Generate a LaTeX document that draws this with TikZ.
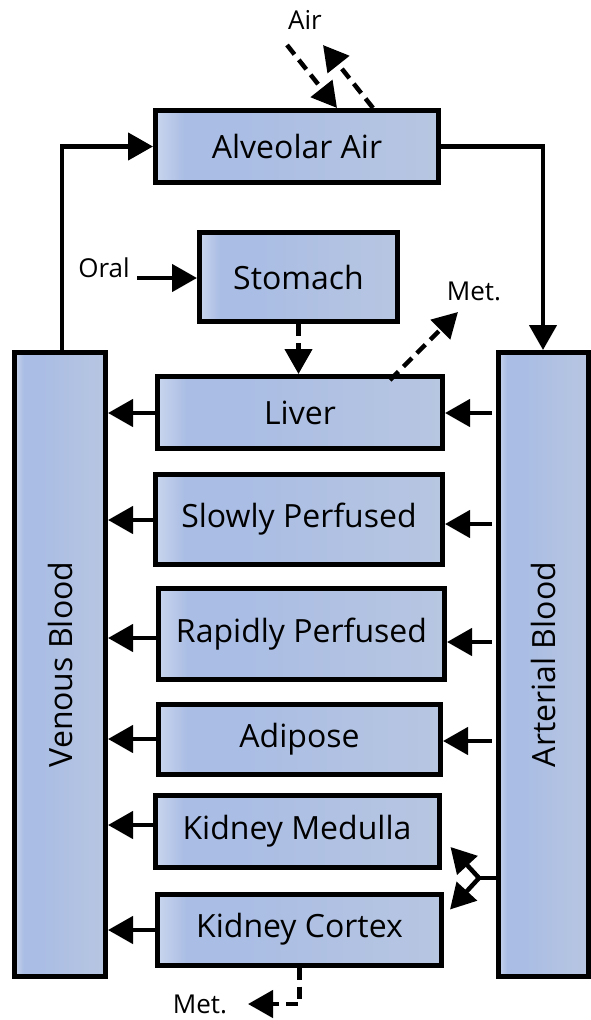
\documentclass[tikz,border=0pt]{standalone}
\usepackage{fontspec}
\setmainfont{Open Sans}
\usetikzlibrary{arrows.meta}

% left-to-right fill of the compartment boxes
\definecolor{fillA}{HTML}{CAD6EE}
\definecolor{fillB}{HTML}{AABDE4}
\definecolor{fillC}{HTML}{B7C6E1}
\pgfdeclarehorizontalshading{compfill}{100bp}{%
  color(0bp)=(fillA); color(25bp)=(fillA); color(30bp)=(fillB);
  color(40bp)=(fillB); color(75bp)=(fillC); color(100bp)=(fillC)}

\tikzset{
  comp/.style={draw=black, line width=5pt, shading=compfill,
    rectangle, inner sep=0pt, font=\fontsize{32}{38}\selectfont},
  tip/.style={-{Triangle[length=25pt,width=27pt]}},
  flow/.style={line width=4.5pt, tip},
  dflow/.style={flow, dash pattern=on 12pt off 7pt},
  pipe/.style={line width=4.5pt},
  lbl/.style={font=\fontsize{26}{30}\selectfont, inner sep=0pt}
}

\begin{document}
\begin{tikzpicture}[x=1pt, y=-1pt]
\useasboundingbox (0,0) rectangle (590,1020);

% compartments
\node[comp, minimum width=283pt, minimum height=72pt] (alv) at (297,146.5) {Alveolar Air};
\node[comp, minimum width=198pt, minimum height=89pt] (sto) at (298.5,277) {Stomach};
\node[comp, minimum width=285pt, minimum height=72pt] (liv) at (300,412.5) {Liver};
\node[comp, minimum width=287pt, minimum height=90pt] (slo) at (299,519.5) {Slowly Perfused};
\node[comp, minimum width=286pt, minimum height=91pt] (rap) at (301.5,634) {Rapidly Perfused};
\node[comp, minimum width=282pt, minimum height=70pt] (adi) at (299.5,739.5) {Adipose};
\node[comp, minimum width=284pt, minimum height=72pt] (kme) at (297,831.5) {Kidney Medulla};
\node[comp, minimum width=284pt, minimum height=71pt] (kco) at (299.5,929.5) {Kidney Cortex};
\node[comp, minimum width=91pt, minimum height=624pt] (ven) at (60,664.5) {};
\node[comp, minimum width=90pt, minimum height=624pt] (art) at (543,664.5) {};
\node[font=\fontsize{32}{38}\selectfont, rotate=90] (venl) at (ven.center) {Venous Blood};
\node[font=\fontsize{32}{38}\selectfont, rotate=90] (artl) at (art.center) {Arterial Blood};

% free labels
\node[lbl] (air) at (305,20) {Air};
\node[lbl] (oral) at (104,268) {Oral};
\node[lbl] (met1) at (474,291) {Met.};
\node[lbl] (met2) at (200,1004) {Met.};

% free ends of the exchange arrows
\coordinate (airin) at (287,45);
\coordinate (airout) at (323,45);
\coordinate (oralstart) at (137,278);
\coordinate (metout) at (458,312);
\coordinate (metin) at (248,1004);
\coordinate (fork) at (479,878);

% breathing loop
\draw[pipe, tip] ([xshift=2pt]ven.north) |- (alv.west);
\draw[pipe, tip] (alv.east) -| (art.north);
\draw[dflow] (airin) -- ([xshift=40pt]alv.north);
\draw[dflow] ([xshift=76pt]alv.north) -- (airout);

% oral uptake and gut to liver
\draw[flow] (oralstart) -- (sto.west |- oralstart);
\draw[dflow] (sto.south) -- (liv.north -| sto.south);
\draw[dflow] ([xshift=90pt,yshift=-6pt]liv.north) -- (metout);

% tissue to venous blood
\foreach \t/\yy in {liv/413, slo/520, rap/638, adi/739, kme/825, kco/930}{
  \draw[flow] (\t.west |- 0,\yy) -- (ven.east |- 0,\yy);
}
% arterial blood to tissue
\foreach \t/\yy in {liv/413, slo/524, rap/642, adi/741}{
  \draw[flow] ([xshift=-4pt]art.west |- 0,\yy) -- (\t.east |- 0,\yy);
}
% arterial supply split between the two kidney regions
\draw[pipe] (art.west |- fork) -- (fork);
\draw[flow] (fork) -- ([xshift=9pt,yshift=23pt]kme.south east);
\draw[flow] (fork) -- ([xshift=6pt,yshift=-18pt]kco.north east);

% kidney metabolism
\draw[dflow] (kco.south) |- (metin);
\end{tikzpicture}
\end{document}
